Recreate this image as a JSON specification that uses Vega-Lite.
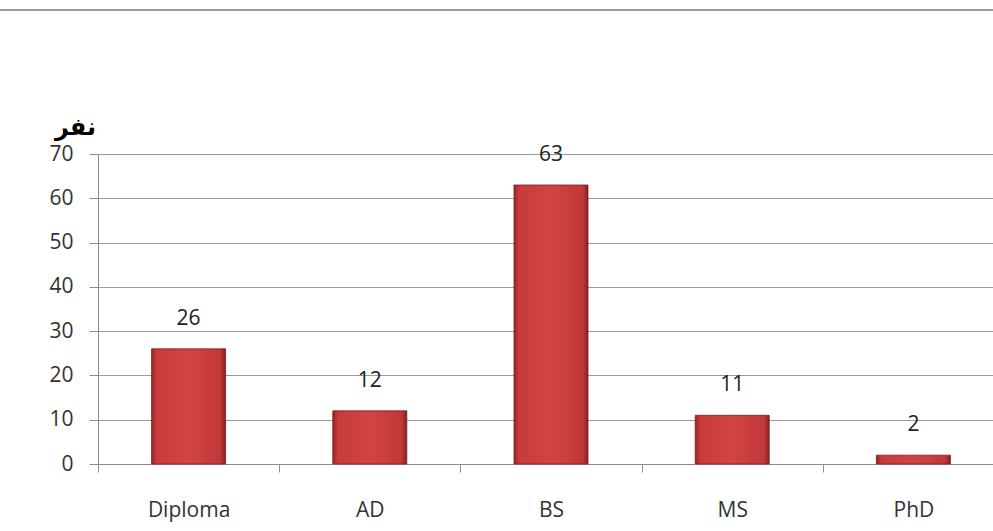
{
  "$schema": "https://vega.github.io/schema/vega-lite/v6.json",
  "autosize": {"type": "none"},
  "width": 895,
  "height": 310,
  "padding": {"left": 98, "top": 154, "right": 0, "bottom": 67},
  "background": "white",
  "config": {"view": {"stroke": null}, "font": "Open Sans"},
  "data": {"values": [
    {"degree": "Diploma", "count": 26},
    {"degree": "AD", "count": 12},
    {"degree": "BS", "count": 63},
    {"degree": "MS", "count": 11},
    {"degree": "PhD", "count": 2}
  ]},
  "layer": [
    {
      "mark": {"type": "rule", "color": "#9a9a9a", "strokeWidth": 2, "clip": false, "x": -98, "x2": 895},
      "encoding": {"y": {"datum": 102.5, "type": "quantitative"}}
    },
    {
      "mark": {
        "type": "bar",
        "width": 74,
        "stroke": "#7a1c1c",
        "strokeWidth": 0.8,
        "color": {
          "gradient": "linear", "x1": 0, "y1": 0, "x2": 1, "y2": 0,
          "stops": [
            {"offset": 0, "color": "#9c2424"},
            {"offset": 0.07, "color": "#c83b3b"},
            {"offset": 0.5, "color": "#d24444"},
            {"offset": 0.93, "color": "#c03838"},
            {"offset": 1, "color": "#862020"}
          ]
        }
      },
      "encoding": {
        "x": {
          "field": "degree", "type": "nominal", "sort": null,
          "scale": {"range": [0, 906], "paddingInner": 0, "paddingOuter": 0},
          "axis": {
            "title": null, "labelAngle": 0, "labelFontSize": 21, "labelColor": "#333333",
            "labelPadding": 27, "tickBand": "extent", "ticks": true, "tickSize": 8,
            "tickColor": "#8c8c8c", "domain": true, "domainColor": "#8c8c8c", "grid": false
          }
        },
        "y": {
          "field": "count", "type": "quantitative",
          "scale": {"domain": [0, 70], "nice": false},
          "axis": {
            "title": "نفر", "titleFont": "DejaVu Sans", "titleFontSize": 24, "titleFontWeight": "bold",
            "titleColor": "#000000", "titleAngle": 0, "titleX": -23, "titleY": -15,
            "titleAlign": "center", "titleBaseline": "bottom",
            "values": [0, 10, 20, 30, 40, 50, 60, 70],
            "labelFontSize": 21, "labelColor": "#333333", "labelPadding": 16,
            "tickSize": 9, "tickColor": "#8c8c8c", "domainColor": "#8c8c8c",
            "grid": true, "gridColor": "#9a9a9a", "gridWidth": 1
          }
        }
      }
    },
    {
      "mark": {"type": "text", "fontSize": 21, "color": "#222222", "dy": -20, "baseline": "bottom"},
      "encoding": {
        "x": {"field": "degree", "type": "nominal", "sort": null},
        "y": {"field": "count", "type": "quantitative"},
        "text": {"field": "count", "type": "quantitative"}
      }
    }
  ]
}
